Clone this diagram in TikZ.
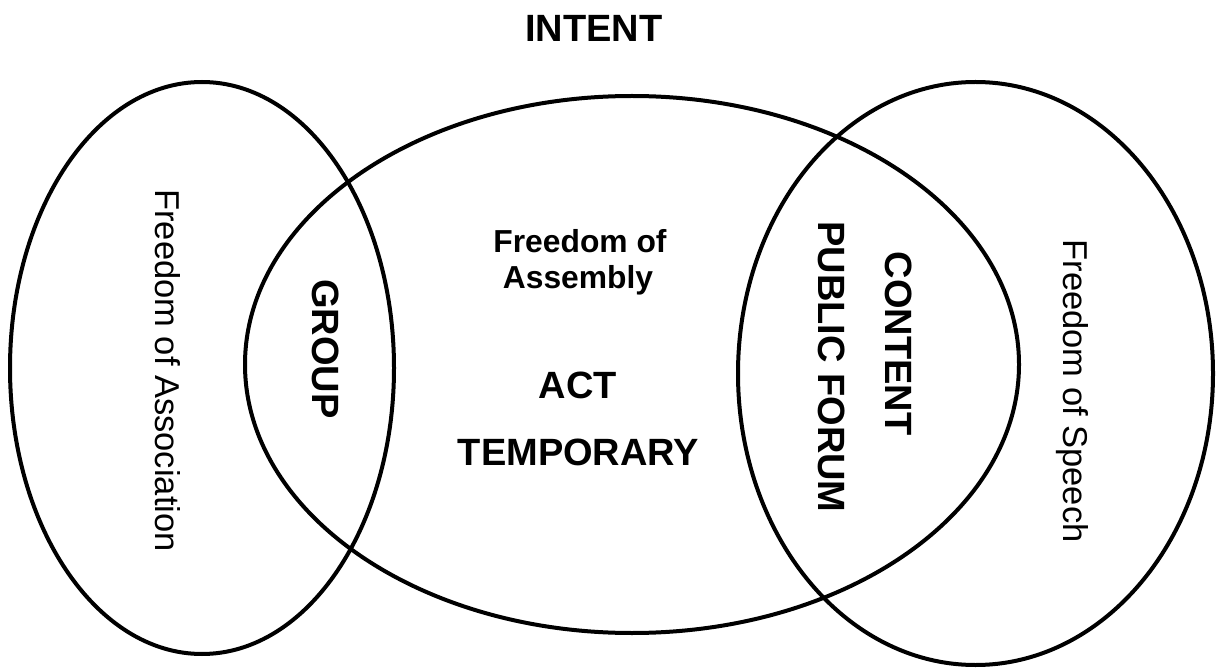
\documentclass[tikz,border=0pt]{standalone}
\usepackage{fontspec}
\setmainfont{Liberation Sans}
\begin{document}
\begin{tikzpicture}[x=1pt,y=1pt,
  ring/.style={draw=black, line width=4pt},
  big/.style={inner sep=0pt, font=\fontsize{38}{44}\selectfont\bfseries},
  mid/.style={inner sep=0pt, font=\fontsize{31.8}{36}\selectfont\bfseries},
  side/.style={inner sep=0pt, font=\fontsize{34.5}{40}\selectfont},
  down/.style={rotate=-90, anchor=base}]
  % page frame
  \path[use as bounding box] (0,0) rectangle (1221,-668);
  \fill[white] (0,0) rectangle (1221,-668);

  % the three overlapping sets
  \draw[ring] (202,-368) ellipse [x radius=192, y radius=286];
  \draw[ring] (632,-364.5) ellipse [x radius=387, y radius=268.5];
  \draw[ring] (975.5,-373.5) ellipse [x radius=237.5, y radius=291.5];

  % heading
  \node[big, anchor=base] (intent) at (594,-42) {INTENT};

  % left set
  \node[side, down] (assoc) at (155,-370.5) {Freedom of Association};
  \node[big, down] (group) at (312,-349) {GROUP};

  % middle set
  \node[mid, anchor=base] (fa1) at (580,-253) {Freedom of};
  \node[mid, anchor=base] (fa2) at (578,-288.5) {Assembly};
  \node[big, anchor=base] (act) at (578,-398) {ACT};
  \node[big, anchor=base] (temp) at (578.5,-465) {TEMPORARY};

  % right set
  \node[big, down] (forum) at (818,-367) {PUBLIC FORUM};
  \node[big, down] (content) at (885,-343.5) {CONTENT};
  \node[side, down] (speech) at (1063,-391) {Freedom of Speech};
\end{tikzpicture}
\end{document}
